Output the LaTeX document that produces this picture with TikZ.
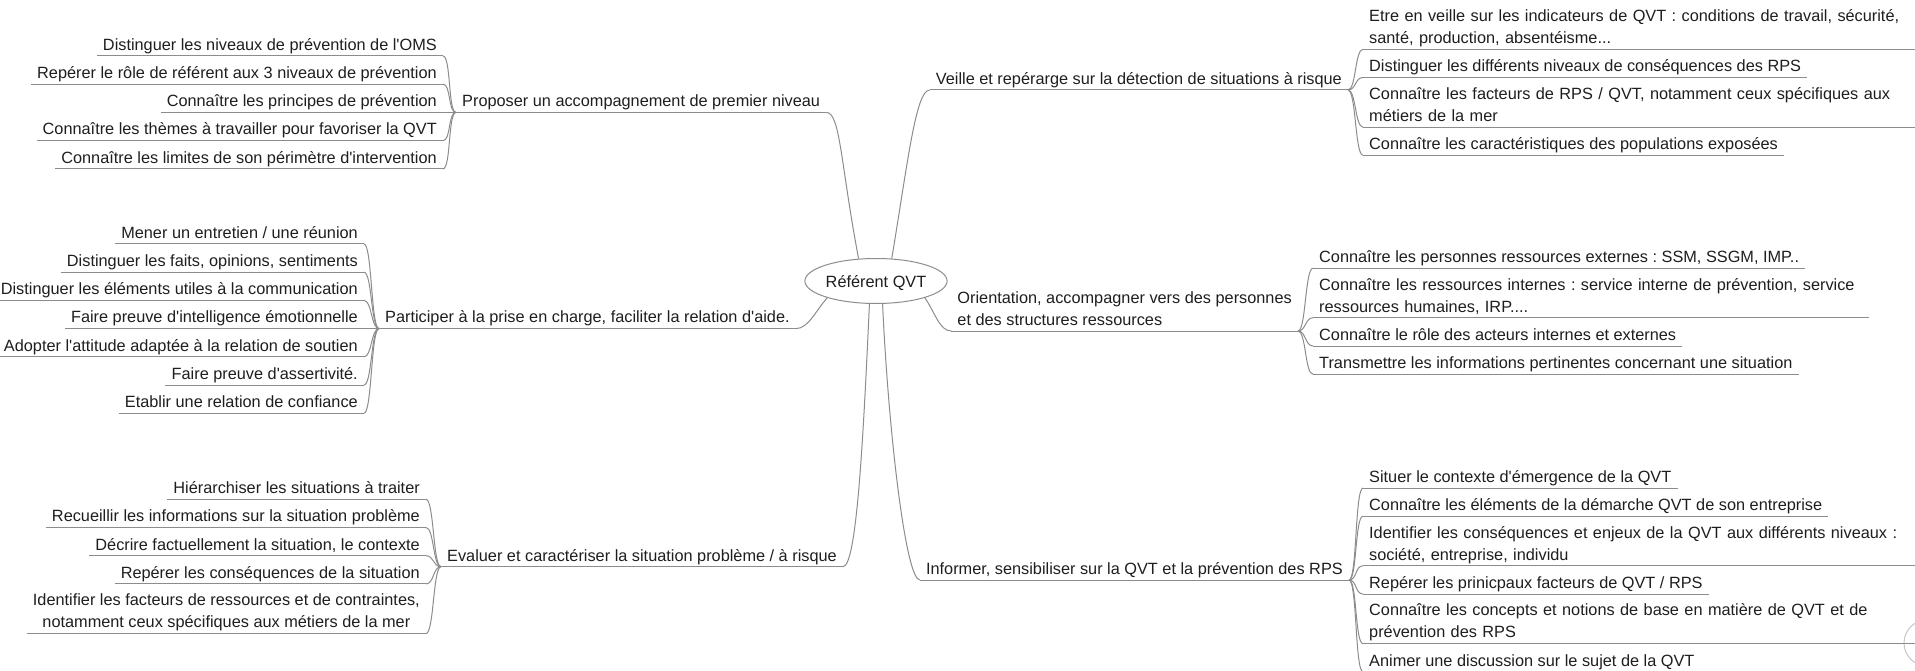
\documentclass[tikz,border=0pt]{standalone}
\usepackage{fontspec}
\setmainfont{Liberation Sans}[Ligatures=TeXOff]
\frenchspacing
\usetikzlibrary{shapes.geometric}
\definecolor{gristrait}{HTML}{8C8C8C}
\definecolor{gristexte}{HTML}{1E1E1E}

\begin{document}
\begin{tikzpicture}[x=1pt, y=-1pt,
	trait/.style={draw=gristrait, line width=1pt},
	sujet/.style={font=\fontsize{16.3}{22}\selectfont, text=gristexte, inner xsep=6pt, inner ysep=2pt, text depth=3.5pt},
	gauche/.style={sujet, anchor=south east},
	droite/.style={sujet, anchor=south west},
	large/.style={text width=544pt, align=left, text depth=25.5pt}]
	\useasboundingbox (0,0) rectangle (1915,671);
	% Centre:
	\node[sujet, ellipse, draw=gristrait, line width=1pt, fill=white, minimum width=114pt, minimum height=45pt, inner sep=0pt, text depth=0pt] (racine) at (876,281) {Référent QVT};
	% Branches, left:
	\node[droite] (prop) at (456,112.4) {Proposer un accompagnement de premier niveau};
	\node[droite] (part) at (379,328.6) {Participer à la prise en charge, faciliter la relation d'aide.};
	\node[droite] (eval) at (441,566.7) {Evaluer et caractériser la situation problème / à risque};
	% Branches, right:
	\node[gauche] (veil) at (1348,90) {Veille et repérarge sur la détection de situations à risque};
	\node[gauche, align=left] (orie) at (1298,331) {Orientation, accompagner vers des personnes\\et des structures ressources};
	\node[gauche] (info) at (1349,580) {Informer, sensibiliser sur la QVT et la prévention des RPS};
	% Leaves of prop:
	\node[gauche] (prop1) at (443,56) {Distinguer les niveaux de prévention de l'OMS};
	\node[gauche] (prop2) at (443,84.2) {Repérer le rôle de référent aux 3 niveaux de prévention};
	\node[gauche] (prop3) at (443,112.4) {Connaître les principes de prévention};
	\node[gauche] (prop4) at (443,140.6) {Connaître les thèmes à travailler pour favoriser la QVT};
	\node[gauche] (prop5) at (443,168.8) {Connaître les limites de son périmètre d'intervention};
	% Leaves of part:
	\node[gauche] (part1) at (364,244) {Mener un entretien / une réunion};
	\node[gauche] (part2) at (364,272.2) {Distinguer les faits, opinions, sentiments};
	\node[gauche] (part3) at (364,300.4) {Distinguer les éléments utiles à la communication};
	\node[gauche] (part4) at (364,328.6) {Faire preuve d'intelligence émotionnelle};
	\node[gauche] (part5) at (364,356.8) {Adopter l'attitude adaptée à la relation de soutien};
	\node[gauche] (part6) at (364,385) {Faire preuve d'assertivité.};
	\node[gauche] (part7) at (364,413.2) {Etablir une relation de confiance};
	% Leaves of eval:
	\node[gauche] (eval1) at (426,499.3) {Hiérarchiser les situations à traiter};
	\node[gauche] (eval2) at (426,527.5) {Recueillir les informations sur la situation problème};
	\node[gauche] (eval3) at (426,555.7) {Décrire factuellement la situation, le contexte};
	\node[gauche] (eval4) at (426,583.9) {Repérer les conséquences de la situation};
	\node[gauche, align=center] (eval5) at (426,633.5) {Identifier les facteurs de ressources et de contraintes,\\notamment ceux spécifiques aux métiers de la mer};
	% Leaves of veil:
	\node[droite, large] (veil1) at (1363,49.3) {Etre en veille sur les indicateurs de QVT : conditions de travail, sécurité,\\santé, production, absentéisme...};
	\node[droite] (veil2) at (1363,77.5) {Distinguer les différents niveaux de conséquences des RPS};
	\node[droite, large] (veil3) at (1363,127.1) {Connaître les facteurs de RPS / QVT, notamment ceux spécifiques aux\\métiers de la mer};
	\node[droite] (veil4) at (1363,155.3) {Connaître les caractéristiques des populations exposées};
	% Leaves of orie:
	\node[droite] (orie1) at (1313,268.2) {Connaître les personnes ressources externes : SSM, SSGM, IMP..};
	\node[droite, large] (orie2) at (1313,317.8) {Connaître les ressources internes : service interne de prévention, service\\ressources humaines, IRP....};
	\node[droite] (orie3) at (1313,346) {Connaître le rôle des acteurs internes et externes};
	\node[droite] (orie4) at (1313,374.2) {Transmettre les informations pertinentes concernant une situation};
	% Leaves of info:
	\node[droite] (info1) at (1363,488) {Situer le contexte d'émergence de la QVT};
	\node[droite] (info2) at (1363,516.2) {Connaître les éléments de la démarche QVT de son entreprise};
	\node[droite, large] (info3) at (1363,565.8) {Identifier les conséquences et enjeux de la QVT aux différents niveaux :\\société, entreprise, individu};
	\node[droite] (info4) at (1363,594) {Repérer les prinicpaux facteurs de QVT / RPS};
	\node[droite, large] (info5) at (1363,643.6) {Connaître les concepts et notions de base en matière de QVT et de\\prévention des RPS};
	\node[droite] (info6) at (1363,671.8) {Animer une discussion sur le sujet de la QVT};
	% Circle cut at the right edge:
	\node[circle, draw=gray!45, line width=1pt, minimum size=46pt, inner sep=0pt] (bouton) at (1927,643) {};
	% Underlines:
	\foreach \n in {prop,part,eval,veil,orie,info,prop1,prop2,prop3,prop4,prop5,part1,part2,part3,part4,part5,part6,part7,eval1,eval2,eval3,eval4,eval5,veil1,veil2,veil3,veil4,orie1,orie2,orie3,orie4,info1,info2,info3,info4,info5,info6}
		\draw[trait] (\n.south west) -- (\n.south east);
	% Centre to branches:
	\draw[trait] (racine.128) .. controls +(-18,-95) and +(14,0) .. (prop.south east);
	\draw[trait] (racine.199) .. controls +(-12,14) and +(12,0) .. (part.south east);
	\draw[trait] (racine.254) .. controls +(-6,130) and +(14,0) .. (eval.south east);
	\draw[trait] (racine.55) .. controls +(16,-95) and +(-14,0) .. (veil.south west);
	\draw[trait] (racine.341) .. controls +(10,14) and +(-12,0) .. (orie.south west);
	\draw[trait] (racine.286) .. controls +(6,130) and +(-14,0) .. (info.south west);
	% Branches to leaves:
	\foreach \n in {prop1,prop2,prop3,prop4,prop5}
		\draw[trait] (\n.south east) .. controls +(8,0) and +(-8,0) .. (prop.south west);
	\foreach \n in {part1,part2,part3,part4,part5,part6,part7}
		\draw[trait] (\n.south east) .. controls +(8,0) and +(-8,0) .. (part.south west);
	\foreach \n in {eval1,eval2,eval3,eval4,eval5}
		\draw[trait] (\n.south east) .. controls +(8,0) and +(-8,0) .. (eval.south west);
	\foreach \n in {veil1,veil2,veil3,veil4}
		\draw[trait] (veil.south east) .. controls +(8,0) and +(-8,0) .. (\n.south west);
	\foreach \n in {orie1,orie2,orie3,orie4}
		\draw[trait] (orie.south east) .. controls +(8,0) and +(-8,0) .. (\n.south west);
	\foreach \n in {info1,info2,info3,info4,info5,info6}
		\draw[trait] (info.south east) .. controls +(8,0) and +(-8,0) .. (\n.south west);
\end{tikzpicture}
\end{document}
